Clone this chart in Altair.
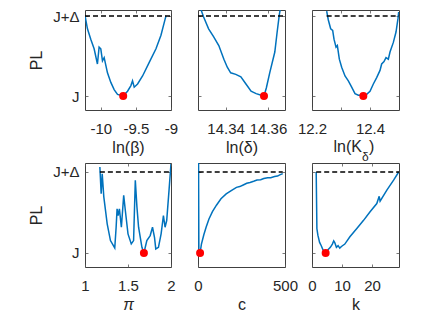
import altair as alt
import pandas as pd

# ---------------- data ----------------
beta_x = [-10.224, -10.19, -10.143, -10.095, -10.048, -10.024, -10.0, -9.976, -9.952, -9.905,
          -9.857, -9.81, -9.762, -9.714, -9.681, -9.619, -9.571, -9.548, -9.524, -9.476,
          -9.405, -9.31, -9.214, -9.143, -9.081, -9.071]
beta_pl = [1.0, 0.84, 0.71, 0.59, 0.40, 0.61, 0.59, 0.44, 0.48, 0.29,
           0.17, 0.08, 0.02, 0.01, 0.0, 0.06, 0.13, 0.19, 0.11, 0.15,
           0.25, 0.42, 0.59, 0.76, 0.97, 1.0]

delta_x = [14.3272, 14.328, 14.3296, 14.332, 14.3344, 14.3368, 14.3392, 14.3408, 14.3424, 14.3448,
           14.3472, 14.3496, 14.352, 14.3544, 14.3568, 14.3581, 14.3592, 14.3608, 14.3632, 14.3643,
           14.3653, 14.3659]
delta_pl = [1.15, 1.11, 0.99, 0.84, 0.74, 0.63, 0.46, 0.36, 0.29, 0.27,
            0.24, 0.15, 0.06, 0.03, 0.01, 0.0, 0.10, 0.29, 0.55, 0.80,
            1.01, 1.11]

kd_x = [12.2506, 12.2563, 12.2644, 12.2713, 12.2759, 12.2828, 12.2874, 12.2943, 12.3023, 12.3138,
        12.3253, 12.3368, 12.3483, 12.3598, 12.3713, 12.377, 12.3885, 12.4, 12.4115, 12.423,
        12.4345, 12.4402, 12.4483, 12.4552, 12.4632, 12.469, 12.4805, 12.4897, 12.4966, 12.4989]
kd_pl = [1.06, 0.95, 0.84, 0.82, 0.71, 0.61, 0.63, 0.46, 0.36, 0.25,
         0.19, 0.11, 0.03, 0.01, 0.01, 0.0, 0.02, 0.06, 0.15, 0.23,
         0.32, 0.40, 0.43, 0.48, 0.46, 0.55, 0.67, 0.80, 0.97, 1.05]

pi_x = [1.173, 1.188, 1.2, 1.219, 1.258, 1.296, 1.346, 1.362, 1.373, 1.385,
        1.4, 1.423, 1.45, 1.469, 1.5, 1.538, 1.565, 1.585, 1.604, 1.623,
        1.662, 1.685, 1.719, 1.758, 1.785, 1.808, 1.823, 1.854, 1.885, 1.912,
        1.931, 1.95, 1.977, 2.0]
pi_pl = [1.062, 0.731, 0.979, 0.690, 0.360, 0.153, 0.062, 0.318, 0.545, 0.463,
         0.545, 0.318, 0.711, 0.525, 0.236, 0.112, 0.153, 0.897, 0.566, 0.318,
         0.070, 0.0, 0.153, 0.215, 0.318, 0.194, 0.05, 0.07, 0.236, 0.463,
         0.318, 0.401, 0.773, 1.10]

c_x = [3, 5, 12, 19.7, 33.5, 47, 63, 83, 106, 132,
       162, 191, 221, 240, 260, 280, 299, 320, 339, 360,
       378, 400, 418, 440, 457, 470, 487]
c_pl = [1.2, 0.05, 0.0, 0.11, 0.225, 0.32, 0.42, 0.51, 0.59, 0.67,
        0.73, 0.77, 0.81, 0.82, 0.84, 0.86, 0.87, 0.885, 0.90, 0.905,
        0.92, 0.93, 0.93, 0.945, 0.95, 0.965, 0.98]

k_x = [1.4, 1.63, 1.96, 2.53, 3.09, 3.65, 4.21, 4.55, 5.33, 6.12,
       6.79, 7.24, 7.58, 8.14, 8.70, 9.26, 9.82, 10.94, 12.63, 14.87,
       17.12, 19.36, 21.6, 22.4, 22.7, 25.0, 27.2, 28.9]
k_pl = [1.0, 0.30, 0.22, 0.13, 0.09, 0.04, 0.02, 0.0, 0.04, 0.07,
        0.11, 0.15, 0.13, 0.07, 0.09, 0.06, 0.08, 0.11, 0.20, 0.30,
        0.40, 0.51, 0.61, 0.70, 0.64, 0.78, 0.90, 1.0]

# optimum (red dot) of each profile
min_x = [-9.681, 14.3581, 12.377, 1.685, 12, 4.55]
min_pl = [0, 0, 0, 0, 0, 0]

# extent of the dashed J+Delta threshold line
dash_start = [-10.225, 14.327, 12.2506, 1.173, 4, 1.4]
dash_end = [-9.0, 14.368, 12.5, 2.0, 487, 29]

x_domains = [[-10.225, -9.0], [14.327, 14.368], [12.2, 12.5], [1, 2], [0, 500], [0, 29]]
x_ticks = [[-10, -9.5, -9], [14.34, 14.36], [12.2, 12.3, 12.4], [1, 1.5, 2], [0, 500], [0, 10, 20]]
x_titles = ["ln(β)", "ln(δ)", None, "π", "c", "k"]
kd_title_parts = ["ln(K", "δ", ")"]
y_tick_labels = ["J", "J+Δ"]

series_x = [beta_x, delta_x, kd_x, pi_x, c_x, k_x]
series_pl = [beta_pl, delta_pl, kd_pl, pi_pl, c_pl, k_pl]

# ---------------- layout ----------------
widths = [86, 87, 87]
heights = [100, 104]
y_domains = [[-0.175, 1.075], [-0.173, 1.111]]

FONT = "Liberation Sans"
TXT = "#262626"
BLUE = "#0072BD"


def tick_axis(orient, offset, values):
    return alt.Axis(orient=orient, offset=offset, values=values, labels=False, domain=False,
                    grid=False, title=None, ticks=True, tickSize=3, tickColor="#555555",
                    tickWidth=0.8)


def panel(i):
    row, col = divmod(i, 3)
    W, H = widths[col], heights[row]
    xs = alt.Scale(domain=x_domains[i], nice=False, zero=False)
    ys = alt.Scale(domain=y_domains[row], nice=False, zero=False)

    df = pd.DataFrame({"x": series_x[i], "pl": series_pl[i]})
    dash_df = pd.DataFrame({"x0": [dash_start[i]], "x1": [dash_end[i]], "lvl": [1.0]})
    min_df = pd.DataFrame({"x": [min_x[i]], "pl": [min_pl[i]]})

    label_expr = "replace(datum.label, '\u2212', '-')"
    if i == 2:
        label_expr = "datum.value > 12.25 && datum.value < 12.35 ? '' : datum.label"

    xa = dict(values=x_ticks[i], format=".6~g", labelExpr=label_expr,
              ticks=False, tickSize=0, domain=False, grid=False, labelFlush=False,
              labelOverlap=False, labelPadding=11, titlePadding=3,
              titleFontStyle="italic" if i == 3 else "normal")
    xa["title"] = x_titles[i]
    main_x = alt.Axis(**xa)
    if col == 0:
        main_y = alt.Axis(values=[0, 1],
                          labelExpr=f"datum.value == 1 ? '{y_tick_labels[1]}' : '{y_tick_labels[0]}'",
                          title="PL", ticks=False, tickSize=0, domain=False, grid=False,
                          labelPadding=6, titlePadding=8, labelOverlap=False, labelFlush=False)
    else:
        main_y = alt.Axis(values=[0, 1], labels=False, title=None, ticks=False, domain=False,
                          grid=False)

    line = alt.Chart(df).mark_line(color=BLUE, strokeWidth=1.5, clip=True).encode(
        x=alt.X("x:Q", scale=xs, axis=main_x),
        y=alt.Y("pl:Q", scale=ys, axis=main_y),
    )
    dash = alt.Chart(dash_df).mark_rule(color="black", strokeWidth=1.3, strokeDash=[5, 3],
                                        clip=True).encode(
        x=alt.X("x0:Q", scale=xs, axis=tick_axis("top", -H, x_ticks[i])),
        x2="x1:Q",
        y=alt.Y("lvl:Q", scale=ys, axis=tick_axis("right", -W, [0, 1])),
    )
    dot = alt.Chart(min_df).mark_circle(color="#FF0000", size=64, opacity=1).encode(
        x=alt.X("x:Q", scale=xs, axis=tick_axis("bottom", -H, x_ticks[i])),
        y=alt.Y("pl:Q", scale=ys, axis=tick_axis("left", -W, [0, 1])),
    )
    layers = [line, dash, dot]
    if i == 2:
        tdf = pd.DataFrame({"t": [kd_title_parts[0]]})
        sdf = pd.DataFrame({"t": [kd_title_parts[1]]})
        cdf = pd.DataFrame({"t": [kd_title_parts[2]]})
        layers.append(alt.Chart(tdf).mark_text(
            font=FONT, fontSize=16, color=TXT, align="right", baseline="alphabetic"
        ).encode(text="t:N", x=alt.value(50), y=alt.value(142)))
        layers.append(alt.Chart(sdf).mark_text(
            font=FONT, fontSize=12, color=TXT, align="left", baseline="alphabetic"
        ).encode(text="t:N", x=alt.value(50), y=alt.value(151)))
        layers.append(alt.Chart(cdf).mark_text(
            font=FONT, fontSize=16, color=TXT, align="left", baseline="alphabetic"
        ).encode(text="t:N", x=alt.value(57), y=alt.value(142)))
    return (alt.layer(*layers)
            .resolve_scale(x="independent", y="independent")
            .resolve_axis(x="independent", y="independent")
            .properties(width=W, height=H))


chart = alt.concat(*[panel(i) for i in range(6)], columns=3,
                   spacing={"row": 53, "column": 27}, bounds="flush", align="each")
chart = chart.properties(padding={"left": 20, "top": 0, "right": 5, "bottom": 5}).configure_view(
    stroke="#404040", strokeWidth=1
).configure_axis(
    labelFont=FONT, labelFontSize=15, labelColor=TXT,
    titleFont=FONT, titleFontSize=16, titleColor=TXT, titleFontWeight="normal",
)

chart.save("out.html", embed_options={"renderer": "svg", "actions": False})
